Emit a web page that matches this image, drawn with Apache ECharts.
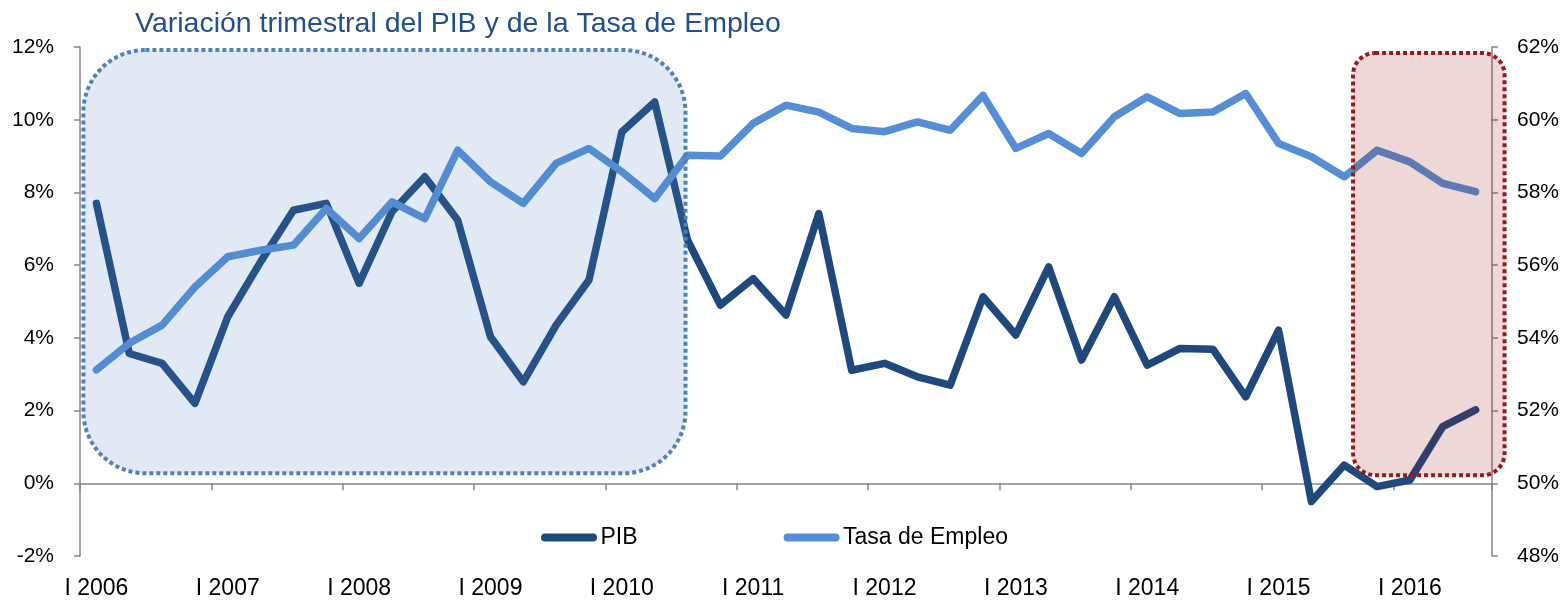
<!DOCTYPE html>
<html>
<head>
<meta charset="utf-8">
<script src="https://cdn.jsdelivr.net/npm/echarts@6/dist/echarts.min.js"></script>
<style>
  html, body { margin: 0; padding: 0; background: #fff; }
  #chart { width: 1566px; height: 603px; }
</style>
</head>
<body>
<div id="chart"></div>
<script>
// datos
var years = [2006, 2007, 2008, 2009, 2010, 2011, 2012, 2013, 2014, 2015, 2016];
var quarters = ['I', 'II', 'III', 'IV'];
var categories = [];
years.forEach(function (y) {
  quarters.forEach(function (q) { categories.push(q + ' ' + y); });
});
categories = categories.slice(0, 43); // hasta III 2016

var pib = [
  7.70, 3.57, 3.30, 2.20, 4.58, 6.09, 7.51, 7.70, 5.50, 7.47, 8.43,
  7.24, 4.03, 2.79, 4.35, 5.59, 9.66, 10.49, 6.69, 4.90, 5.63, 4.63,
  7.42, 3.11, 3.30, 2.93, 2.70, 5.13, 4.08, 5.95, 3.39, 5.13, 3.25,
  3.71, 3.69, 2.38, 4.21, -0.50, 0.50, -0.09, 0.09, 1.56, 2.02
];

var empleo = [
  53.12, 53.85, 54.35, 55.40, 56.23, 56.41, 56.55, 57.56, 56.73, 57.74, 57.28,
  59.16, 58.29, 57.70, 58.80, 59.21, 58.57, 57.83, 59.02, 59.00, 59.90, 60.40,
  60.21, 59.76, 59.67, 59.94, 59.71, 60.67, 59.21, 59.62, 59.07, 60.08, 60.63,
  60.17, 60.21, 60.72, 59.35, 58.98, 58.43, 59.16, 58.84, 58.25, 58.02
];

// recuadros: [categoria inicio, categoria fin, valor arriba, valor abajo]
var boxBlue = ['I 2006', 'III 2010', 12, 0];
var boxRed = ['IV 2015', 'III 2016', 12, 0];

var font = 'Liberation Sans, Arial, sans-serif';
var legendIcon = 'path://M4,0 H52 A4,4 0 0 1 52,8 H4 A4,4 0 0 1 4,0 Z';

var chart = echarts.init(document.getElementById('chart'));

var option = {
  backgroundColor: '#fff',
  animation: false,
  title: {
    text: 'Variación trimestral del PIB y de la Tasa de Empleo',
    left: 130,
    top: 5,
    textStyle: { fontFamily: font, fontSize: 28.5, fontWeight: 'normal', color: '#23508A' }
  },
  legend: {
    left: 536,
    top: 521,
    itemWidth: 57,
    itemHeight: 8,
    itemGap: 146,
    textStyle: { fontFamily: font, fontSize: 23, color: '#000', padding: [0, 0, 0, -2] },
    data: [
      { name: 'PIB', icon: legendIcon },
      { name: 'Tasa de Empleo', icon: legendIcon }
    ]
  },
  grid: { left: 80, right: 74, top: 47, bottom: 47, containLabel: false, outerBoundsMode: 'none' },
  xAxis: {
    type: 'category',
    data: categories,
    boundaryGap: true,
    axisLine: { onZero: true, onZeroAxisIndex: 0, lineStyle: { color: '#868686', width: 1.5 } },
    axisTick: { show: true, interval: 3, length: 7, lineStyle: { color: '#868686', width: 1.5 } },
    axisLabel: {
      interval: 3,
      margin: 21,
      fontFamily: font,
      fontSize: 23,
      color: '#000'
    },
    splitLine: { show: false }
  },
  yAxis: [{
    type: 'value',
    min: -2,
    max: 12,
    interval: 2,
    axisLine: { show: true, lineStyle: { color: '#868686', width: 1.5 } },
    axisTick: { show: true, length: 6, lineStyle: { color: '#868686', width: 1.5 } },
    axisLabel: { formatter: '{value}%', margin: 26, fontFamily: font, fontSize: 21, color: '#000' },
    splitLine: { show: false }
  }, {
    type: 'value',
    min: 48,
    max: 62,
    interval: 2,
    position: 'right',
    axisLine: { show: true, lineStyle: { color: '#868686', width: 1.5 } },
    axisTick: { show: true, length: 6, lineStyle: { color: '#868686', width: 1.5 } },
    axisLabel: { formatter: '{value}%', margin: 25, fontFamily: font, fontSize: 21, color: '#000' },
    splitLine: { show: false }
  }],
  series: [{
    name: 'PIB',
    type: 'line',
    data: pib,
    yAxisIndex: 0,
    symbol: 'none',
    color: '#1F497D',
    lineStyle: { width: 7.5, color: '#1F497D', cap: 'round', join: 'round' }
  }, {
    name: 'Tasa de Empleo',
    type: 'line',
    data: empleo,
    yAxisIndex: 1,
    symbol: 'none',
    color: '#558ED5',
    lineStyle: { width: 7.5, color: '#558ED5', cap: 'round', join: 'round' }
  }]
};

chart.setOption(option);

// recuadros punteados encima de las lineas
function boxRect(box, padL, padR, padT, padB) {
  var x0 = chart.convertToPixel({ xAxisIndex: 0 }, box[0]) - padL;
  var x1 = chart.convertToPixel({ xAxisIndex: 0 }, box[1]) + padR;
  var y0 = chart.convertToPixel({ yAxisIndex: 0 }, box[2]) + padT;
  var y1 = chart.convertToPixel({ yAxisIndex: 0 }, box[3]) - padB;
  return { x: x0, y: y0, width: x1 - x0, height: y1 - y0 };
}

var rb = boxRect(boxBlue, 13, -2, 3, 10);
var rr = boxRect(boxRed, 24, 29, 6, 8);

chart.setOption({
  graphic: [{
    type: 'rect',
    z: 100,
    shape: { x: rb.x, y: rb.y, width: rb.width, height: rb.height, r: 62 },
    style: { fill: 'rgba(79,129,189,0.17)', stroke: '#4F81BD', lineWidth: 4, lineDash: [4, 3] }
  }, {
    type: 'rect',
    z: 100,
    shape: { x: rr.x, y: rr.y, width: rr.width, height: rr.height, r: 22 },
    style: { fill: 'rgba(150,20,20,0.17)', stroke: '#9A1A1A', lineWidth: 4, lineDash: [4, 3] }
  }]
});
</script>
</body>
</html>
